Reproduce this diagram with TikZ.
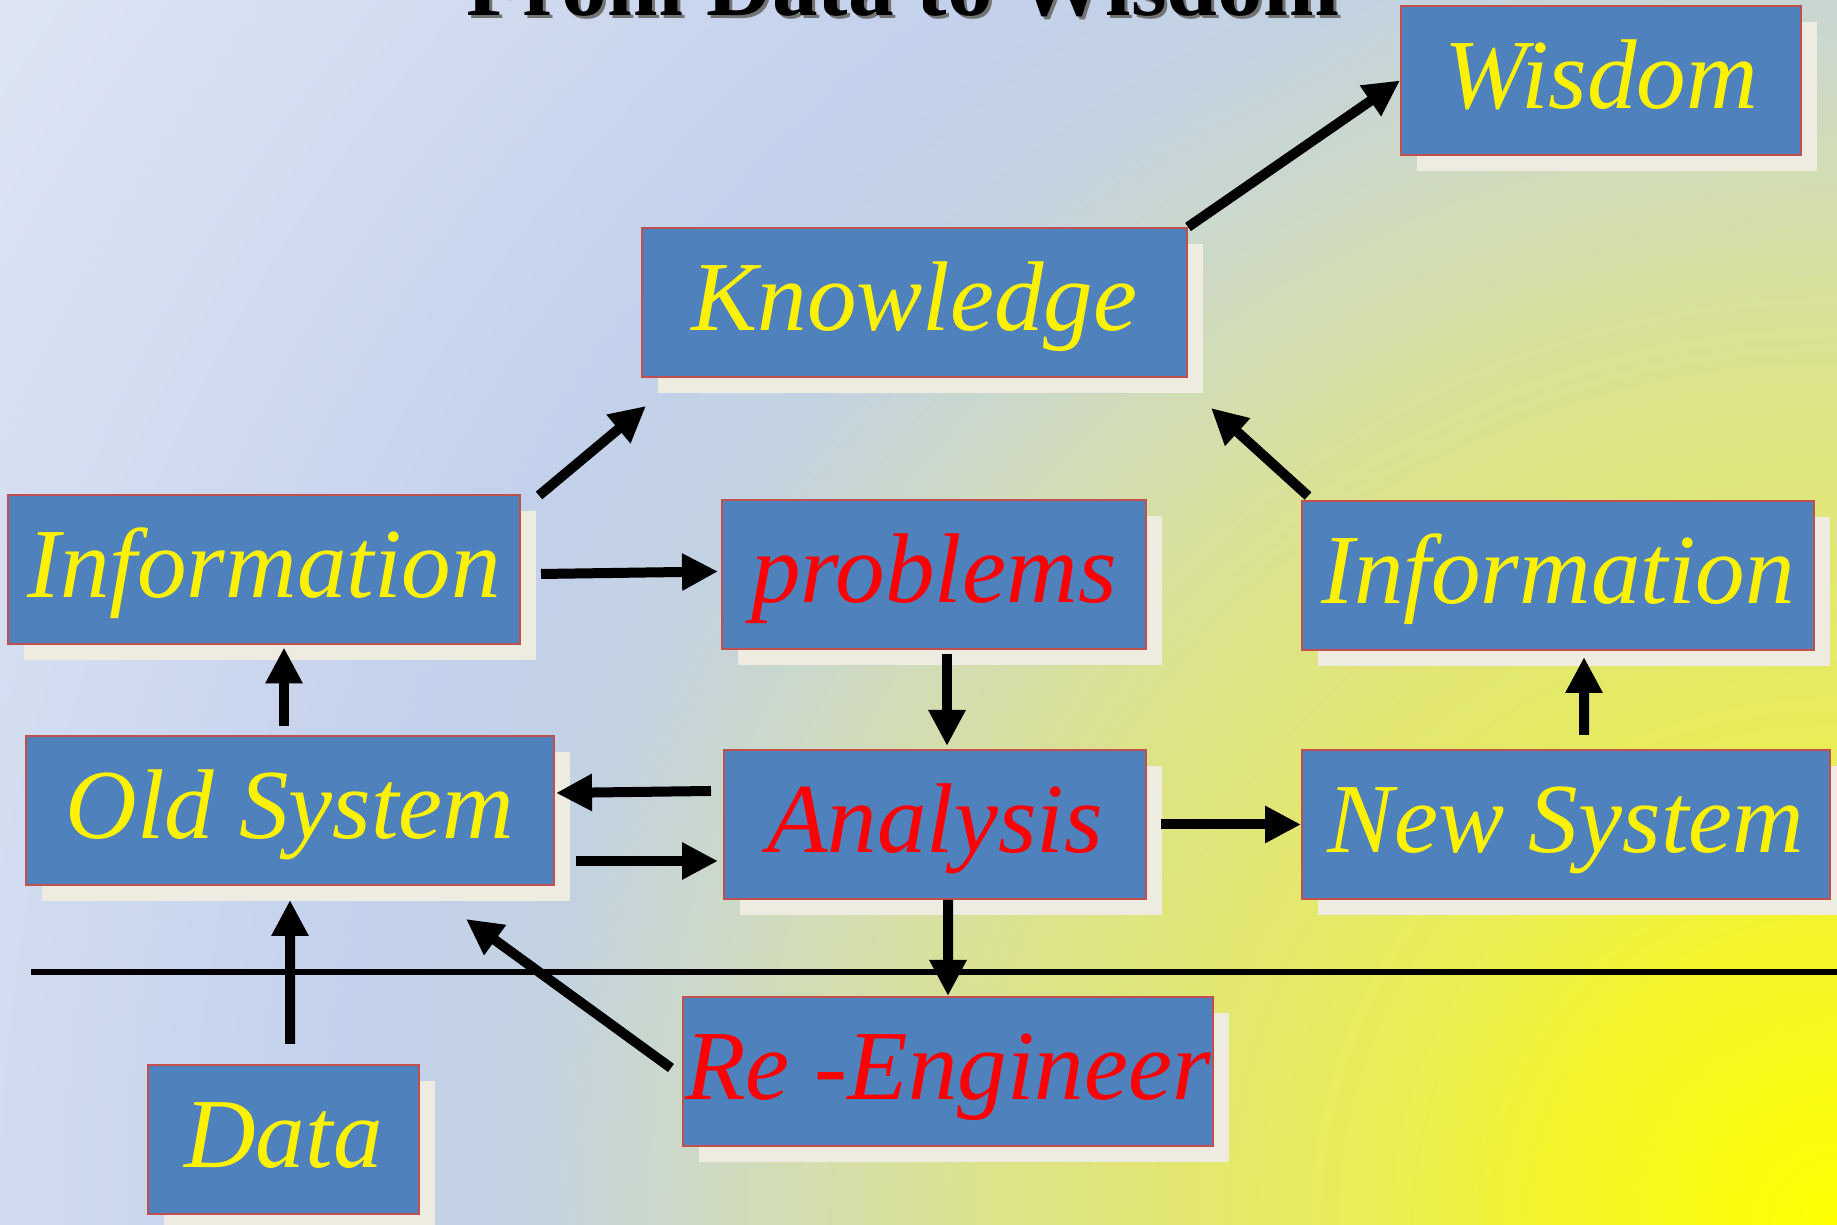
\documentclass[tikz,border=0pt]{standalone}
\usepackage{fontspec}
\setmainfont{Liberation Serif}
\usetikzlibrary{arrows.meta,shadows}
\definecolor{boxblue}{HTML}{4F81BD}
\definecolor{boxred}{HTML}{C0504D}
\definecolor{shadecream}{HTML}{EEECE1}
\definecolor{bgA}{HTML}{FFFF00}
\definecolor{bgB}{HTML}{F3F42C}
\definecolor{bgC}{HTML}{EBEF50}
\definecolor{bgD}{HTML}{E4E86C}
\definecolor{bgE}{HTML}{DCE38A}
\definecolor{bgF}{HTML}{D3DDB4}
\definecolor{bgG}{HTML}{CBD8CC}
\definecolor{bgH}{HTML}{C3D2E2}
\definecolor{bgI}{HTML}{C3D1EC}
\definecolor{bgJ}{HTML}{D2DCF0}
\definecolor{bgK}{HTML}{DDE5F4}
\pgfdeclareradialshading{bgshade}{\pgfpoint{0bp}{0bp}}{color(0bp)=(bgA); color(3.3bp)=(bgB); color(4.8bp)=(bgC); color(6.9bp)=(bgD); color(9.4bp)=(bgE); color(11.7bp)=(bgF); color(13.1bp)=(bgG); color(14.6bp)=(bgH); color(16.7bp)=(bgI); color(20.6bp)=(bgJ); color(24.6bp)=(bgK); color(50bp)=(bgK)}

\begin{document}
\begin{tikzpicture}[
 box/.style={draw=boxred, line width=0.02cm, fill=boxblue, minimum height=1.49cm, inner sep=0pt,
  text height=0.6cm, text depth=0.04cm, text=yellow, font=\fontsize{28.2}{30}\selectfont\itshape,
  drop shadow={shadow xshift=0.16cm, shadow yshift=-0.16cm, fill=shadecream, opacity=1}},
 arr/.style={line width=0.1cm, -{Triangle[length=0.36cm,width=0.35cm]}},
 ttl/.style={font=\fontsize{26}{30}\selectfont\bfseries, anchor=base}
]
 \useasboundingbox (0,0) rectangle (18.37,12.25); %図の範囲
 \clip (0,0) rectangle (18.37,12.25);
 \shade[shading=bgshade] (18.37,0) circle (22.5); %背景
 \node[ttl, text=black!55] (TS) at (9.06,12.06) {From Data to Wisdom}; %タイトルの影
 \node[ttl] (T) at (9.03,12.09) {From Data to Wisdom}; %タイトル
 \node[box, minimum width=4.00cm] (W) at (16.01,11.445) {Wisdom}; %上段
 \node[box, minimum width=5.45cm] (K) at (9.145,9.225) {Knowledge};
 \node[box, minimum width=5.12cm] (IL) at (2.64,6.55) {Information}; %中段
 \node[box, minimum width=4.24cm, text=red] (P) at (9.34,6.505) {problems};
 \node[box, minimum width=5.12cm] (IR) at (15.58,6.495) {Information};
 \node[box, minimum width=5.28cm] (OS) at (2.90,4.145) {Old System};
 \node[box, minimum width=4.22cm, text=red] (AN) at (9.35,4.005) {Analysis};
 \node[box, minimum width=5.28cm] (NS) at (15.66,4.005) {New System};
 \node[box, minimum width=5.30cm, text=red] (RE) at (9.48,1.535) {Re -Engineer}; %下段
 \node[box, minimum width=2.71cm] (DA) at (2.835,0.855) {Data};
 \coordinate (LS) at (0.31,2.53); %横線の左端
 \coordinate (LL) at (18.37,2.53); %横線の右端
 \draw[line width=0.06cm] (LS)--(LL); %横線
 \draw[arr] ([xshift=0.18cm,yshift=-0.01cm]IL.north east)--([xshift=0.05cm,yshift=-0.28cm]K.south west);
 \draw[arr] (K.north east)--(W.west);
 \draw[arr] ([xshift=0.07cm,yshift=0.04cm]IR.north west)--([xshift=0.23cm,yshift=-0.30cm]K.south east);
 \draw[arr] ([xshift=0.20cm,yshift=-0.04cm]IL.east)--([xshift=-0.03cm,yshift=0.03cm]P.west);
 \draw[arr] ([xshift=0.13cm,yshift=-0.04cm]P.south)--([xshift=0.12cm,yshift=0.03cm]AN.north);
 \draw[arr] ([xshift=-0.12cm,yshift=0.335cm]AN.west)--([xshift=0.01cm,yshift=0.175cm]OS.east);
 \draw[arr] ([xshift=0.21cm,yshift=-0.505cm]OS.east)--([xshift=-0.05cm,yshift=-0.365cm]AN.west);
 \draw[arr] ([xshift=0.14cm]AN.east)--(NS.west);
 \draw[arr] ([xshift=0.18cm,yshift=0.14cm]NS.north)--([xshift=0.26cm,yshift=-0.06cm]IR.south);
 \draw[arr] ([xshift=-0.06cm,yshift=0.09cm]OS.north)--([xshift=0.20cm,yshift=-0.02cm]IL.south);
 \draw[arr] ([xshift=0.13cm]AN.south)--(RE.north);
 \draw[arr] ([xshift=-0.11cm,yshift=0.035cm]RE.west)--([xshift=1.76cm,yshift=-0.33cm]OS.south);
 \draw[arr] ([xshift=0.065cm,yshift=0.20cm]DA.north)--([yshift=-0.14cm]OS.south);
\end{tikzpicture}
\end{document}
